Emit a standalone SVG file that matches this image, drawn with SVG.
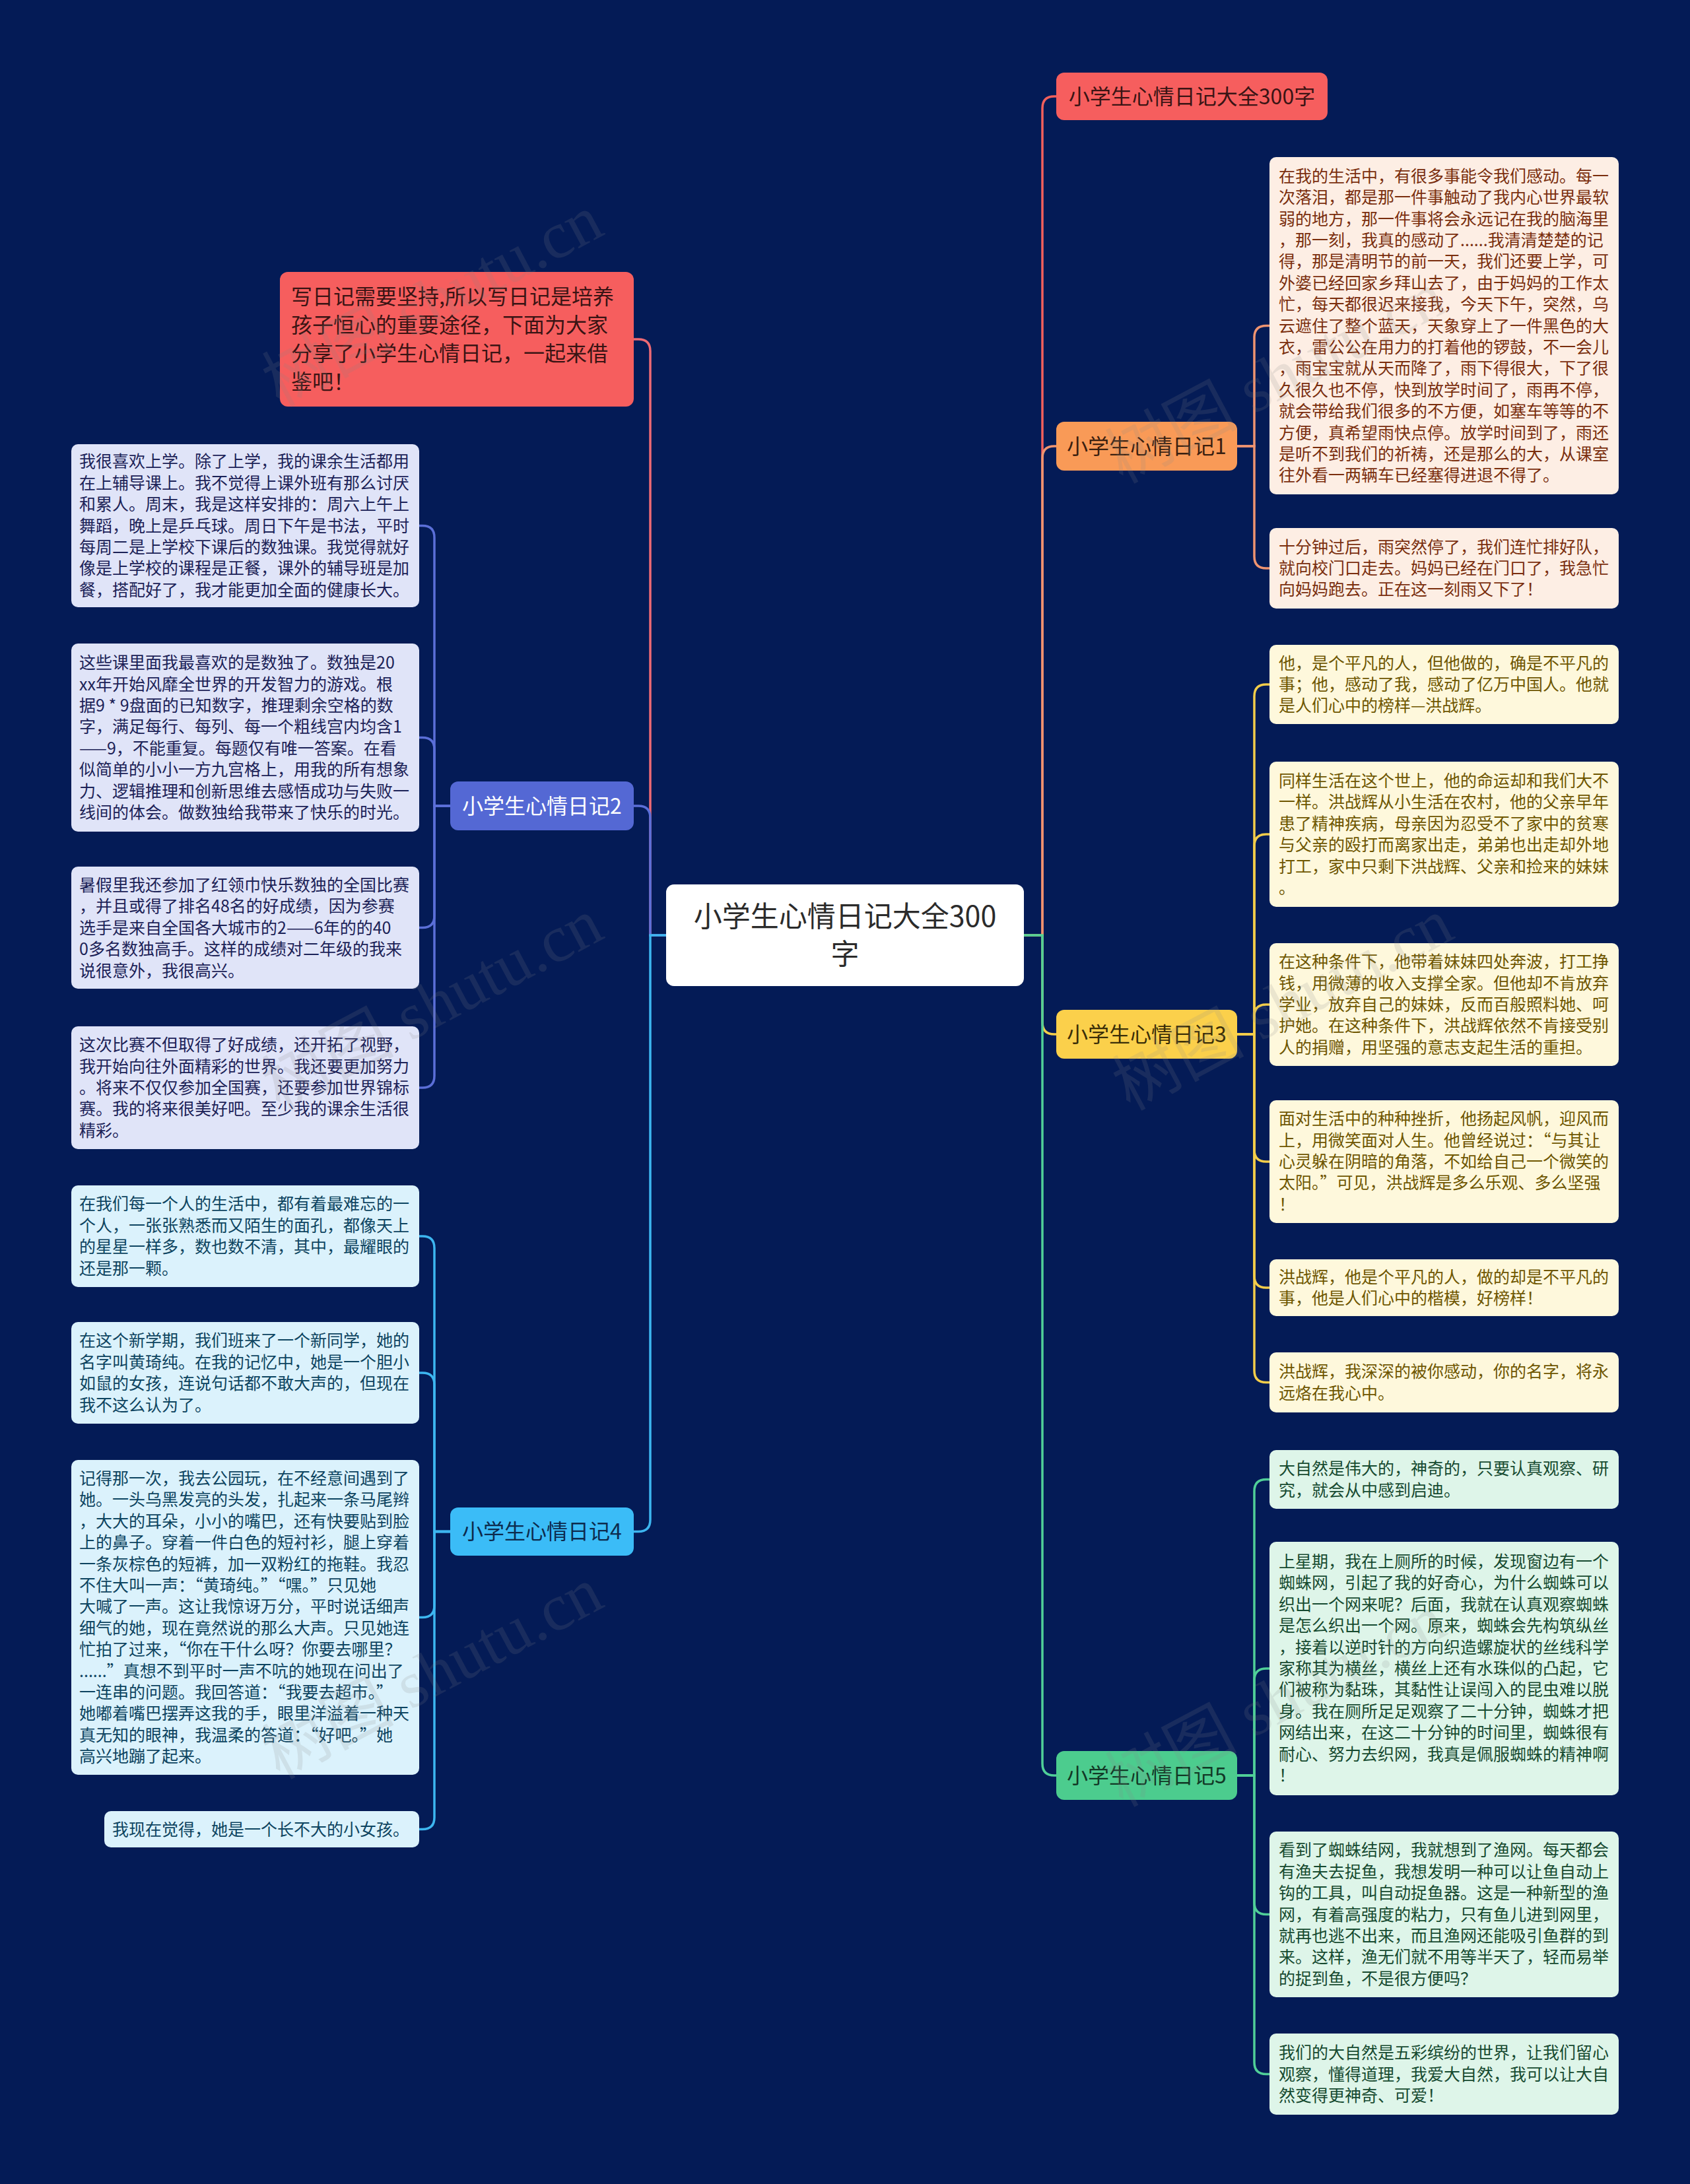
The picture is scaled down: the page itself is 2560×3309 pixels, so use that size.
<svg xmlns="http://www.w3.org/2000/svg" width="2560" height="3309" viewBox="0 0 2560 3309">
<style>
text{font-family:"Noto Sans CJK SC","Noto Sans",sans-serif}
.leaf{font-size:25px}
.node{font-size:32px}
.c{fill:none;stroke-width:3.5;stroke-linecap:round}
.wm{font-family:"Liberation Serif","Noto Sans CJK SC",serif;font-size:100px;fill:#888;opacity:0.16}
.l1{fill:#fdeee4}.t1{fill:#7a2e0e}
.l3{fill:#fef8dc}.t3{fill:#6e5600}
.l5{fill:#def5e9}.t5{fill:#164a30}
.l2{fill:#e0e4f8}.t2{fill:#1c2257}
.l4{fill:#dbf2fc}.t4{fill:#0d4460}
</style>
<rect width="2560" height="3309" fill="#041b56"/>
<g id="connectors">
<path class="c" stroke="#f2605c" d="M1551 1417 H1579 V164 Q1579 146 1597 146 H1600"/>
<path class="c" stroke="#ef9470" d="M1551 1417 H1579 V694 Q1579 676 1597 676 H1600"/>
<path class="c" stroke="#f3cd4a" d="M1551 1417 H1579 V1549 Q1579 1567 1597 1567 H1600"/>
<path class="c" stroke="#50cf98" d="M1551 1417 H1579 V2672 Q1579 2690 1597 2690 H1600"/>
<path class="c" stroke="#ee6a74" d="M1009 1417 H985 V532 Q985 514 967 514 H960"/>
<path class="c" stroke="#5b6fd8" d="M1009 1417 H985 V1239 Q985 1221 967 1221 H960"/>
<path class="c" stroke="#3db6f0" d="M1009 1417 H985 V2302.5 Q985 2320.5 967 2320.5 H960"/>
<g stroke="#ef9470">
<path class="c" d="M1874 676 H1900 V511.5 Q1900 493.5 1918 493.5 H1923"/>
<path class="c" d="M1874 676 H1900 V843 Q1900 861 1918 861 H1923"/>
</g>
<g stroke="#f3cd4a">
<path class="c" d="M1874 1567 H1900 V1055 Q1900 1037 1918 1037 H1923"/>
<path class="c" d="M1874 1567 H1900 V1282 Q1900 1264 1918 1264 H1923"/>
<path class="c" d="M1874 1567 H1900 V1540 Q1900 1522 1918 1522 H1923"/>
<path class="c" d="M1874 1567 H1900 V1742 Q1900 1760 1918 1760 H1923"/>
<path class="c" d="M1874 1567 H1900 V1933 Q1900 1951 1918 1951 H1923"/>
<path class="c" d="M1874 1567 H1900 V2076.5 Q1900 2094.5 1918 2094.5 H1923"/>
</g>
<g stroke="#50cf98">
<path class="c" d="M1874 2690 H1900 V2259.5 Q1900 2241.5 1918 2241.5 H1923"/>
<path class="c" d="M1874 2690 H1900 V2546 Q1900 2528 1918 2528 H1923"/>
<path class="c" d="M1874 2690 H1900 V2882.5 Q1900 2900.5 1918 2900.5 H1923"/>
<path class="c" d="M1874 2690 H1900 V3124.5 Q1900 3142.5 1918 3142.5 H1923"/>
</g>
<g stroke="#5b6fd8">
<path class="c" d="M682 1221 H658 V814.5 Q658 796.5 640 796.5 H635"/>
<path class="c" d="M682 1221 H658 V1135.5 Q658 1117.5 640 1117.5 H635"/>
<path class="c" d="M682 1221 H658 V1387.5 Q658 1405.5 640 1405.5 H635"/>
<path class="c" d="M682 1221 H658 V1630 Q658 1648 640 1648 H635"/>
</g>
<g stroke="#3db6f0">
<path class="c" d="M682 2320.5 H658 V1891 Q658 1873 640 1873 H635"/>
<path class="c" d="M682 2320.5 H658 V2098 Q658 2080 640 2080 H635"/>
<path class="c" d="M682 2320.5 H658 V2432.5 Q658 2450.5 640 2450.5 H635"/>
<path class="c" d="M682 2320.5 H658 V2753.5 Q658 2771.5 640 2771.5 H635"/>
</g>
</g>
<g id="root">
<rect x="1009" y="1340" width="542" height="154" rx="12" fill="#ffffff"/>
<text x="1280" y="1404" font-size="43" fill="#2b2b2b" text-anchor="middle">小学生心情日记大全300</text>
<text x="1280" y="1461" font-size="43" fill="#2b2b2b" text-anchor="middle">字</text>
</g>
<g id="title-node">
<rect x="1600" y="110" width="411" height="72" rx="12" fill="#f65e5e"/>
<text class="node" x="1805.5" y="157.5" fill="#3a1414" text-anchor="middle">小学生心情日记大全300字</text>
</g>
<g id="node1">
<rect x="1600" y="639" width="274" height="74" rx="12" fill="#f99a57"/>
<text class="node" x="1737" y="687.5" fill="#3a2010" text-anchor="middle">小学生心情日记1</text>
</g>
<g id="node3">
<rect x="1600" y="1530" width="274" height="74" rx="12" fill="#fbd04b"/>
<text class="node" x="1737" y="1578.5" fill="#3a2e08" text-anchor="middle">小学生心情日记3</text>
</g>
<g id="node5">
<rect x="1600" y="2653" width="274" height="74" rx="12" fill="#4ccc8e"/>
<text class="node" x="1737" y="2701.5" fill="#123826" text-anchor="middle">小学生心情日记5</text>
</g>
<g id="intro">
<rect x="424" y="412" width="536" height="204" rx="12" fill="#f65e5e"/>
<text class="node" x="441" y="461" fill="#3a1414"><tspan x="441">写日记需要坚持,所以写日记是培养</tspan><tspan x="441" dy="43">孩子恒心的重要途径，下面为大家</tspan><tspan x="441" dy="43">分享了小学生心情日记，一起来借</tspan><tspan x="441" dy="43">鉴吧！</tspan></text>
</g>
<g id="node2">
<rect x="682" y="1184" width="278" height="74" rx="12" fill="#5468d4"/>
<text class="node" x="821" y="1232.5" fill="#ffffff" text-anchor="middle">小学生心情日记2</text>
</g>
<g id="node4">
<rect x="682" y="2284" width="278" height="73" rx="12" fill="#3bbcf7"/>
<text class="node" x="821" y="2332" fill="#0d2b4d" text-anchor="middle">小学生心情日记4</text>
</g>
<g id="n1-leaf1">
<rect class="l1" x="1923" y="238" width="529" height="511" rx="10"/>
<text class="leaf t1" x="1937" y="275.7"><tspan x="1937">在我的生活中，有很多事能令我们感动。每一</tspan><tspan x="1937" dy="32.4">次落泪，都是那一件事触动了我内心世界最软</tspan><tspan x="1937" dy="32.4">弱的地方，那一件事将会永远记在我的脑海里</tspan><tspan x="1937" dy="32.4">，那一刻，我真的感动了......我清清楚楚的记</tspan><tspan x="1937" dy="32.4">得，那是清明节的前一天，我们还要上学，可</tspan><tspan x="1937" dy="32.4">外婆已经回家乡拜山去了，由于妈妈的工作太</tspan><tspan x="1937" dy="32.4">忙，每天都很迟来接我，今天下午，突然，乌</tspan><tspan x="1937" dy="32.4">云遮住了整个蓝天，天象穿上了一件黑色的大</tspan><tspan x="1937" dy="32.4">衣，雷公公在用力的打着他的锣鼓，不一会儿</tspan><tspan x="1937" dy="32.4">，雨宝宝就从天而降了，雨下得很大，下了很</tspan><tspan x="1937" dy="32.4">久很久也不停，快到放学时间了，雨再不停，</tspan><tspan x="1937" dy="32.4">就会带给我们很多的不方便，如塞车等等的不</tspan><tspan x="1937" dy="32.4">方便，真希望雨快点停。放学时间到了，雨还</tspan><tspan x="1937" dy="32.4">是听不到我们的祈祷，还是那么的大，从课室</tspan><tspan x="1937" dy="32.4">往外看一两辆车已经塞得进退不得了。</tspan></text>
</g>
<g id="n1-leaf2">
<rect class="l1" x="1923" y="800" width="529" height="122" rx="10"/>
<text class="leaf t1" x="1937" y="837.6"><tspan x="1937">十分钟过后，雨突然停了，我们连忙排好队，</tspan><tspan x="1937" dy="32.4">就向校门口走去。妈妈已经在门口了，我急忙</tspan><tspan x="1937" dy="32.4">向妈妈跑去。正在这一刻雨又下了！</tspan></text>
</g>
<g id="n3-leaf1">
<rect class="l3" x="1923" y="977" width="529" height="120" rx="10"/>
<text class="leaf t3" x="1937" y="1013.6"><tspan x="1937">他，是个平凡的人，但他做的，确是不平凡的</tspan><tspan x="1937" dy="32.4">事；他，感动了我，感动了亿万中国人。他就</tspan><tspan x="1937" dy="32.4">是人们心中的榜样—洪战辉。</tspan></text>
</g>
<g id="n3-leaf2">
<rect class="l3" x="1923" y="1154" width="529" height="220" rx="10"/>
<text class="leaf t3" x="1937" y="1192"><tspan x="1937">同样生活在这个世上，他的命运却和我们大不</tspan><tspan x="1937" dy="32.4">一样。洪战辉从小生活在农村，他的父亲早年</tspan><tspan x="1937" dy="32.4">患了精神疾病，母亲因为忍受不了家中的贫寒</tspan><tspan x="1937" dy="32.4">与父亲的殴打而离家出走，弟弟也出走却外地</tspan><tspan x="1937" dy="32.4">打工，家中只剩下洪战辉、父亲和捡来的妹妹</tspan><tspan x="1937" dy="32.4">。</tspan></text>
</g>
<g id="n3-leaf3">
<rect class="l3" x="1923" y="1429" width="529" height="186" rx="10"/>
<text class="leaf t3" x="1937" y="1466.2"><tspan x="1937">在这种条件下，他带着妹妹四处奔波，打工挣</tspan><tspan x="1937" dy="32.4">钱，用微薄的收入支撑全家。但他却不肯放弃</tspan><tspan x="1937" dy="32.4">学业，放弃自己的妹妹，反而百般照料她、呵</tspan><tspan x="1937" dy="32.4">护她。在这种条件下，洪战辉依然不肯接受别</tspan><tspan x="1937" dy="32.4">人的捐赠，用坚强的意志支起生活的重担。</tspan></text>
</g>
<g id="n3-leaf4">
<rect class="l3" x="1923" y="1667" width="529" height="186" rx="10"/>
<text class="leaf t3" x="1937" y="1704.2"><tspan x="1937">面对生活中的种种挫折，他扬起风帆，迎风而</tspan><tspan x="1937" dy="32.4">上，用微笑面对人生。他曾经说过：“与其让</tspan><tspan x="1937" dy="32.4">心灵躲在阴暗的角落，不如给自己一个微笑的</tspan><tspan x="1937" dy="32.4">太阳。”可见，洪战辉是多么乐观、多么坚强</tspan><tspan x="1937" dy="32.4">！</tspan></text>
</g>
<g id="n3-leaf5">
<rect class="l3" x="1923" y="1908" width="529" height="86" rx="10"/>
<text class="leaf t3" x="1937" y="1943.8"><tspan x="1937">洪战辉，他是个平凡的人，做的却是不平凡的</tspan><tspan x="1937" dy="32.4">事，他是人们心中的楷模，好榜样！</tspan></text>
</g>
<g id="n3-leaf6">
<rect class="l3" x="1923" y="2049" width="529" height="91" rx="10"/>
<text class="leaf t3" x="1937" y="2087.3"><tspan x="1937">洪战辉，我深深的被你感动，你的名字，将永</tspan><tspan x="1937" dy="32.4">远烙在我心中。</tspan></text>
</g>
<g id="n5-leaf1">
<rect class="l5" x="1923" y="2197" width="529" height="89" rx="10"/>
<text class="leaf t5" x="1937" y="2234.3"><tspan x="1937">大自然是伟大的，神奇的，只要认真观察、研</tspan><tspan x="1937" dy="32.4">究，就会从中感到启迪。</tspan></text>
</g>
<g id="n5-leaf2">
<rect class="l5" x="1923" y="2336" width="529" height="384" rx="10"/>
<text class="leaf t5" x="1937" y="2375"><tspan x="1937">上星期，我在上厕所的时候，发现窗边有一个</tspan><tspan x="1937" dy="32.4">蜘蛛网，引起了我的好奇心，为什么蜘蛛可以</tspan><tspan x="1937" dy="32.4">织出一个网来呢？后面，我就在认真观察蜘蛛</tspan><tspan x="1937" dy="32.4">是怎么织出一个网。原来，蜘蛛会先构筑纵丝</tspan><tspan x="1937" dy="32.4">，接着以逆时针的方向织造螺旋状的丝线科学</tspan><tspan x="1937" dy="32.4">家称其为横丝，横丝上还有水珠似的凸起，它</tspan><tspan x="1937" dy="32.4">们被称为黏珠，其黏性让误闯入的昆虫难以脱</tspan><tspan x="1937" dy="32.4">身。我在厕所足足观察了二十分钟，蜘蛛才把</tspan><tspan x="1937" dy="32.4">网结出来，在这二十分钟的时间里，蜘蛛很有</tspan><tspan x="1937" dy="32.4">耐心、努力去织网，我真是佩服蜘蛛的精神啊</tspan><tspan x="1937" dy="32.4">！</tspan></text>
</g>
<g id="n5-leaf3">
<rect class="l5" x="1923" y="2775" width="529" height="251" rx="10"/>
<text class="leaf t5" x="1937" y="2812.3"><tspan x="1937">看到了蜘蛛结网，我就想到了渔网。每天都会</tspan><tspan x="1937" dy="32.4">有渔夫去捉鱼，我想发明一种可以让鱼自动上</tspan><tspan x="1937" dy="32.4">钩的工具，叫自动捉鱼器。这是一种新型的渔</tspan><tspan x="1937" dy="32.4">网，有着高强度的粘力，只有鱼儿进到网里，</tspan><tspan x="1937" dy="32.4">就再也逃不出来，而且渔网还能吸引鱼群的到</tspan><tspan x="1937" dy="32.4">来。这样，渔无们就不用等半天了，轻而易举</tspan><tspan x="1937" dy="32.4">的捉到鱼，不是很方便吗？</tspan></text>
</g>
<g id="n5-leaf4">
<rect class="l5" x="1923" y="3081" width="529" height="123" rx="10"/>
<text class="leaf t5" x="1937" y="3119.1"><tspan x="1937">我们的大自然是五彩缤纷的世界，让我们留心</tspan><tspan x="1937" dy="32.4">观察，懂得道理，我爱大自然，我可以让大自</tspan><tspan x="1937" dy="32.4">然变得更神奇、可爱！</tspan></text>
</g>
<g id="n2-leaf1">
<rect class="l2" x="108" y="673" width="527" height="247" rx="10"/>
<text class="leaf t2" x="120" y="708.3"><tspan x="120">我很喜欢上学。除了上学，我的课余生活都用</tspan><tspan x="120" dy="32.4">在上辅导课上。我不觉得上课外班有那么讨厌</tspan><tspan x="120" dy="32.4">和累人。周末，我是这样安排的：周六上午上</tspan><tspan x="120" dy="32.4">舞蹈，晚上是乒乓球。周日下午是书法，平时</tspan><tspan x="120" dy="32.4">每周二是上学校下课后的数独课。我觉得就好</tspan><tspan x="120" dy="32.4">像是上学校的课程是正餐，课外的辅导班是加</tspan><tspan x="120" dy="32.4">餐，搭配好了，我才能更加全面的健康长大。</tspan></text>
</g>
<g id="n2-leaf2">
<rect class="l2" x="108" y="975" width="527" height="285" rx="10"/>
<text class="leaf t2" x="120" y="1013.1"><tspan x="120">这些课里面我最喜欢的是数独了。数独是20</tspan><tspan x="120" dy="32.4">xx年开始风靡全世界的开发智力的游戏。根</tspan><tspan x="120" dy="32.4">据9 * 9盘面的已知数字，推理剩余空格的数</tspan><tspan x="120" dy="32.4">字，满足每行、每列、每一个粗线宫内均含1</tspan><tspan x="120" dy="32.4">——9，不能重复。每题仅有唯一答案。在看</tspan><tspan x="120" dy="32.4">似简单的小小一方九宫格上，用我的所有想象</tspan><tspan x="120" dy="32.4">力、逻辑推理和创新思维去感悟成功与失败一</tspan><tspan x="120" dy="32.4">线间的体会。做数独给我带来了快乐的时光。</tspan></text>
</g>
<g id="n2-leaf3">
<rect class="l2" x="108" y="1313" width="527" height="185" rx="10"/>
<text class="leaf t2" x="120" y="1350"><tspan x="120">暑假里我还参加了红领巾快乐数独的全国比赛</tspan><tspan x="120" dy="32.4">，并且或得了排名48名的好成绩，因为参赛</tspan><tspan x="120" dy="32.4">选手是来自全国各大城市的2——6年的的40</tspan><tspan x="120" dy="32.4">0多名数独高手。这样的成绩对二年级的我来</tspan><tspan x="120" dy="32.4">说很意外，我很高兴。</tspan></text>
</g>
<g id="n2-leaf4">
<rect class="l2" x="108" y="1555" width="527" height="186" rx="10"/>
<text class="leaf t2" x="120" y="1592.2"><tspan x="120">这次比赛不但取得了好成绩，还开拓了视野，</tspan><tspan x="120" dy="32.4">我开始向往外面精彩的世界。我还要更加努力</tspan><tspan x="120" dy="32.4">。将来不仅仅参加全国赛，还要参加世界锦标</tspan><tspan x="120" dy="32.4">赛。我的将来很美好吧。至少我的课余生活很</tspan><tspan x="120" dy="32.4">精彩。</tspan></text>
</g>
<g id="n4-leaf1">
<rect class="l4" x="108" y="1796" width="527" height="154" rx="10"/>
<text class="leaf t4" x="120" y="1833.4"><tspan x="120">在我们每一个人的生活中，都有着最难忘的一</tspan><tspan x="120" dy="32.4">个人，一张张熟悉而又陌生的面孔，都像天上</tspan><tspan x="120" dy="32.4">的星星一样多，数也数不清，其中，最耀眼的</tspan><tspan x="120" dy="32.4">还是那一颗。</tspan></text>
</g>
<g id="n4-leaf2">
<rect class="l4" x="108" y="2003" width="527" height="154" rx="10"/>
<text class="leaf t4" x="120" y="2040.4"><tspan x="120">在这个新学期，我们班来了一个新同学，她的</tspan><tspan x="120" dy="32.4">名字叫黄琦纯。在我的记忆中，她是一个胆小</tspan><tspan x="120" dy="32.4">如鼠的女孩，连说句话都不敢大声的，但现在</tspan><tspan x="120" dy="32.4">我不这么认为了。</tspan></text>
</g>
<g id="n4-leaf3">
<rect class="l4" x="108" y="2212" width="527" height="477" rx="10"/>
<text class="leaf t4" x="120" y="2248.9"><tspan x="120">记得那一次，我去公园玩，在不经意间遇到了</tspan><tspan x="120" dy="32.4">她。一头乌黑发亮的头发，扎起来一条马尾辫</tspan><tspan x="120" dy="32.4">，大大的耳朵，小小的嘴巴，还有快要贴到脸</tspan><tspan x="120" dy="32.4">上的鼻子。穿着一件白色的短衬衫，腿上穿着</tspan><tspan x="120" dy="32.4">一条灰棕色的短裤，加一双粉红的拖鞋。我忍</tspan><tspan x="120" dy="32.4">不住大叫一声：“黄琦纯。”“嘿。”只见她</tspan><tspan x="120" dy="32.4">大喊了一声。这让我惊讶万分，平时说话细声</tspan><tspan x="120" dy="32.4">细气的她，现在竟然说的那么大声。只见她连</tspan><tspan x="120" dy="32.4">忙拍了过来，“你在干什么呀？你要去哪里？</tspan><tspan x="120" dy="32.4">......”真想不到平时一声不吭的她现在问出了</tspan><tspan x="120" dy="32.4">一连串的问题。我回答道：“我要去超市。”</tspan><tspan x="120" dy="32.4">她嘟着嘴巴摆弄这我的手，眼里洋溢着一种天</tspan><tspan x="120" dy="32.4">真无知的眼神，我温柔的答道：“好吧。”她</tspan><tspan x="120" dy="32.4">高兴地蹦了起来。</tspan></text>
</g>
<g id="n4-leaf4">
<rect class="l4" x="158" y="2744" width="477" height="55" rx="10"/>
<text class="leaf t4" x="170" y="2780.5">我现在觉得，她是一个长不大的小女孩。</text>
</g>
<g id="watermark">
<text class="wm" x="654" y="490" text-anchor="middle" transform="rotate(-28 654 454)">树图 shutu.cn</text>
<text class="wm" x="1931" y="606" text-anchor="middle" transform="rotate(-28 1931 570)">树图 shutu.cn</text>
<text class="wm" x="654" y="1556" text-anchor="middle" transform="rotate(-28 654 1520)">树图 shutu.cn</text>
<text class="wm" x="1942" y="1556" text-anchor="middle" transform="rotate(-28 1942 1520)">树图 shutu.cn</text>
<text class="wm" x="654" y="2569" text-anchor="middle" transform="rotate(-28 654 2533)">树图 shutu.cn</text>
<text class="wm" x="1931" y="2611" text-anchor="middle" transform="rotate(-28 1931 2575)">树图 shutu.cn</text>
</g>
</svg>
